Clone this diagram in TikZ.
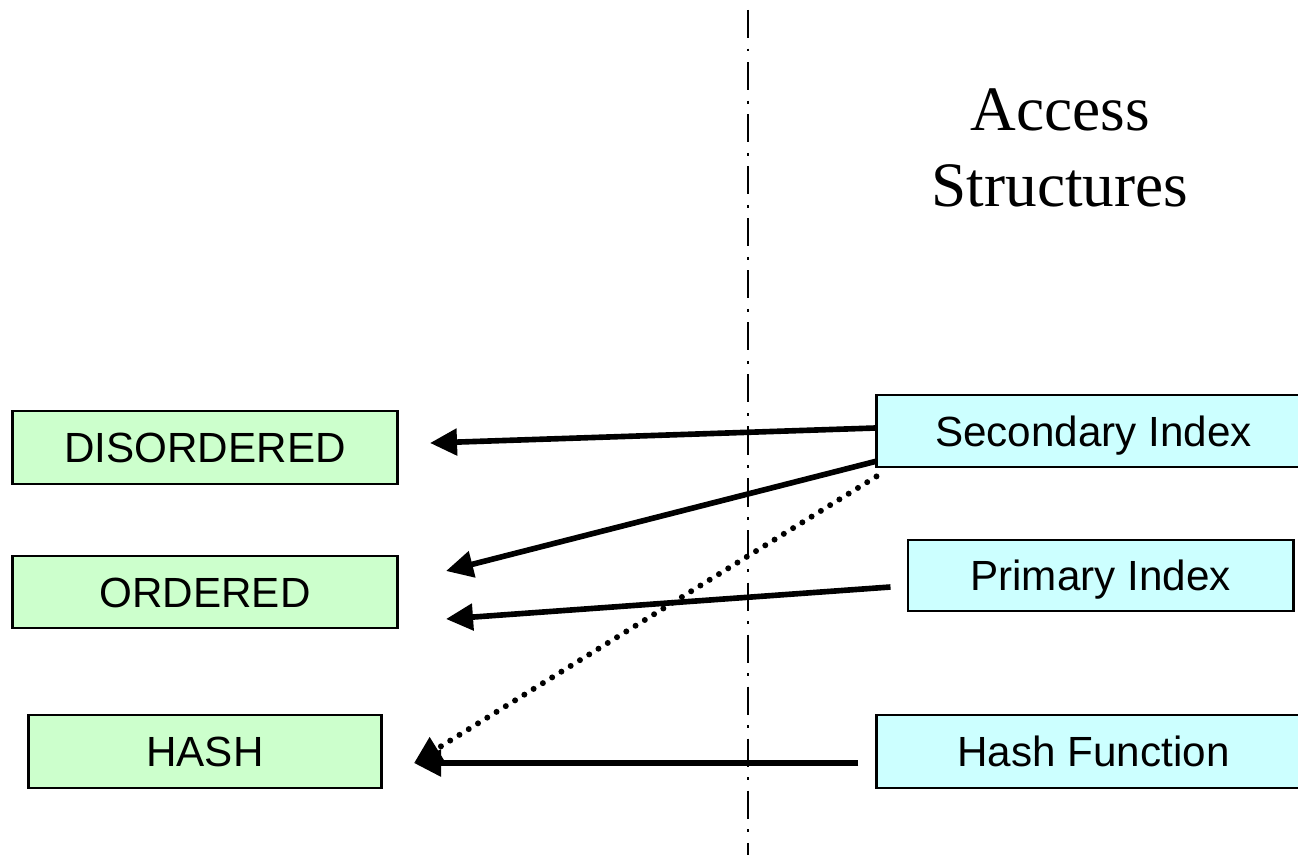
\documentclass[tikz,border=0pt]{standalone}
\usepackage{fontspec}
\setmainfont{Liberation Sans}
\newfontfamily\titlefont{Liberation Serif}
\usetikzlibrary{arrows.meta,calc}
\definecolor{boxgreen}{HTML}{CCFFCC}
\definecolor{boxcyan}{HTML}{CCFFFF}
\tikzset{
  filebox/.style={draw=black,line width=0.8pt,fill=boxgreen,inner sep=0pt,text height=8.6pt,text depth=0pt,font=\fontsize{12}{14}\selectfont},
  accbox/.style={draw=black,line width=0.8pt,fill=boxcyan,inner sep=0pt,text height=8.6pt,text depth=0pt,font=\fontsize{12}{14}\selectfont},
  link/.style={line width=1.6pt,-{Triangle[length=0.27cm,width=0.26cm]}},
  dotlink/.style={line width=1.7pt,line cap=round,dash pattern=on 0pt off 3.1pt,-{Triangle[length=0.27cm,width=0.26cm]}},
  divider/.style={line width=0.5pt,dash pattern=on 8pt off 3pt on 0.8pt off 3pt}
}
\begin{document}
\begin{tikzpicture}[x=0.01cm,y=-0.01cm]
\useasboundingbox (0,0) rectangle (1298,855);
\clip (0,0) rectangle (1298,855);
\fill[white] (0,0) rectangle (1298,855);
% divider
\coordinate (dtop) at (748,10);
\coordinate (dbot) at (748,855);
\draw[divider] (dtop) -- (dbot);
% title
\node[font=\titlefont\fontsize{18}{21.5}\selectfont,align=center] (title) at (1060,148) {Access\\Structures};
% left boxes
\node[filebox,minimum width=3.84cm,minimum height=0.73cm] (dis) at (205,447.5) {DISORDERED};
\node[filebox,minimum width=3.84cm,minimum height=0.72cm] (ord) at (205,592) {ORDERED};
\node[filebox,minimum width=3.52cm,minimum height=0.73cm] (hash) at (205,751.5) {HASH};
% right boxes
\node[accbox,minimum width=4.33cm,minimum height=0.72cm] (sec) at (1093.5,431) {Secondary Index};
\node[accbox,minimum width=3.85cm,minimum height=0.71cm] (prim) at (1100.5,575.5) {Primary Index};
\node[accbox,minimum width=4.33cm,minimum height=0.73cm] (hf) at (1093.5,751.5) {Hash Function};
% arrow tips
\coordinate (t1) at (430,443);
\coordinate (t2) at (446,571);
\coordinate (t3) at (446,619);
\coordinate (t4) at (414,763);
\coordinate (t5) at (414,763);
% connectors
\draw[link] ($(sec.west)+(0,-3)$) -- (t1);
\draw[link] ($(sec.south west)+(0,-7)$) -- (t2);
\draw[link] ($(prim.west)+(-16,11.5)$) -- (t3);
\draw[dotlink] ($(sec.south west)+(1,8)$) -- (t4);
\draw[link] ($(hf.west)+(-17,11.5)$) -- (t5);
\end{tikzpicture}
\end{document}
